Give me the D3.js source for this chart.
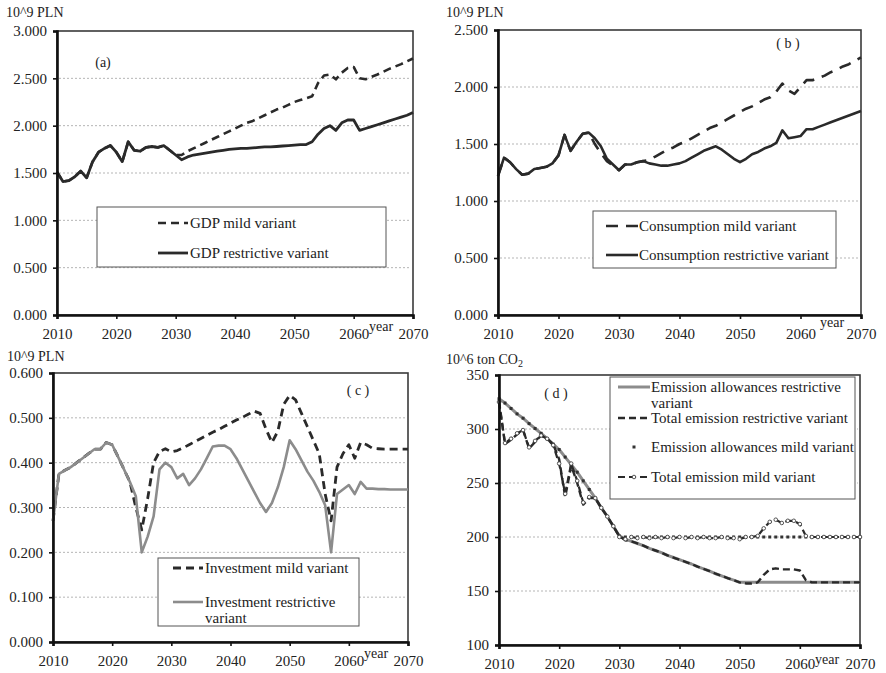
<!DOCTYPE html>
<html>
<head>
<meta charset="utf-8">
<script src="https://cdn.jsdelivr.net/npm/d3@7/dist/d3.min.js"></script>
<style>
  body { margin: 0; background: #fff; }
  svg text { font-family: "Liberation Serif", "Times New Roman", serif; fill: #222; }
</style>
</head>
<body>
<div id="container"></div>
<script>
// data, one value per year 2010..2070
const years = [
  2010,2011,2012,2013,2014,2015,2016,2017,2018,2019,
  2020,2021,2022,2023,2024,2025,2026,2027,2028,2029,
  2030,2031,2032,2033,2034,2035,2036,2037,2038,2039,
  2040,2041,2042,2043,2044,2045,2046,2047,2048,2049,
  2050,2051,2052,2053,2054,2055,2056,2057,2058,2059,
  2060,2061,2062,2063,2064,2065,2066,2067,2068,2069,
  2070
];
const xTicks = [2010, 2020, 2030, 2040, 2050, 2060, 2070];

// (a) GDP, 10^9 PLN
const gdpRestrictive = [
  1.51,1.41,1.42,1.46,1.52,1.45,1.62,1.72,1.76,1.79,
  1.72,1.62,1.83,1.74,1.73,1.77,1.78,1.77,1.79,1.74,
  1.69,1.64,1.67,1.69,1.70,1.71,1.72,1.73,1.74,1.75,
  1.755,1.76,1.76,1.765,1.77,1.775,1.775,1.78,1.785,1.79,
  1.795,1.80,1.80,1.83,1.91,1.97,2.00,1.95,2.03,2.06,
  2.06,1.95,1.97,1.99,2.01,2.03,2.05,2.07,2.09,2.11,
  2.14
];
const gdpMild = [
  1.51,1.41,1.42,1.46,1.52,1.45,1.62,1.72,1.76,1.79,
  1.72,1.62,1.83,1.74,1.73,1.77,1.78,1.77,1.79,1.74,
  1.69,1.69,1.73,1.76,1.79,1.82,1.85,1.88,1.91,1.94,
  1.97,2.00,2.03,2.05,2.08,2.11,2.14,2.17,2.19,2.22,
  2.25,2.27,2.29,2.31,2.45,2.53,2.54,2.49,2.56,2.61,
  2.62,2.50,2.49,2.515,2.54,2.57,2.60,2.625,2.65,2.68,
  2.71
];
const gdpTicks = [0, 0.5, 1, 1.5, 2, 2.5, 3];

// (b) consumption, 10^9 PLN
const consRestrictive = [
  1.22,1.38,1.34,1.28,1.23,1.24,1.28,1.29,1.30,1.33,
  1.40,1.58,1.44,1.52,1.59,1.60,1.55,1.48,1.37,1.32,
  1.27,1.32,1.32,1.34,1.35,1.33,1.32,1.31,1.31,1.32,
  1.33,1.35,1.38,1.41,1.44,1.46,1.48,1.45,1.41,1.37,
  1.34,1.37,1.41,1.43,1.46,1.48,1.51,1.62,1.55,1.56,
  1.57,1.63,1.63,1.65,1.67,1.69,1.71,1.73,1.75,1.77,
  1.79
];
const consMild = [
  1.22,1.38,1.34,1.28,1.23,1.24,1.28,1.29,1.30,1.33,
  1.40,1.58,1.44,1.52,1.59,1.60,1.50,1.42,1.35,1.31,
  1.27,1.32,1.32,1.34,1.35,1.36,1.39,1.42,1.45,1.47,
  1.50,1.52,1.55,1.58,1.61,1.64,1.66,1.69,1.72,1.75,
  1.78,1.81,1.83,1.86,1.89,1.91,1.96,2.03,1.97,1.94,
  2.00,2.06,2.06,2.08,2.10,2.13,2.15,2.18,2.20,2.23,
  2.26
];
const consTicks = [0, 0.5, 1, 1.5, 2, 2.5];

// (c) investment, 10^9 PLN
const invRestrictive = [
  0.27,0.375,0.383,0.39,0.40,0.41,0.42,0.43,0.43,0.445,
  0.44,0.413,0.385,0.357,0.325,0.20,0.235,0.28,0.385,0.40,
  0.39,0.365,0.375,0.35,0.365,0.385,0.41,0.436,0.438,0.438,
  0.43,0.41,0.385,0.36,0.335,0.31,0.29,0.31,0.345,0.39,
  0.45,0.43,0.405,0.38,0.36,0.335,0.305,0.20,0.33,0.34,
  0.35,0.33,0.357,0.342,0.342,0.341,0.341,0.34,0.34,0.34,
  0.34
];
const invMild = [
  0.27,0.375,0.383,0.39,0.40,0.41,0.42,0.43,0.43,0.445,
  0.44,0.413,0.385,0.357,0.30,0.25,0.32,0.40,0.425,0.431,
  0.424,0.427,0.433,0.44,0.447,0.454,0.461,0.468,0.474,0.481,
  0.488,0.495,0.501,0.508,0.515,0.51,0.475,0.445,0.47,0.53,
  0.55,0.54,0.51,0.48,0.45,0.42,0.33,0.27,0.39,0.42,
  0.44,0.41,0.445,0.44,0.432,0.431,0.43,0.43,0.43,0.43,
  0.43
];
const invTicks = [0, 0.1, 0.2, 0.3, 0.4, 0.5, 0.6];

// (d) emissions, 10^6 ton CO2
const allowRestrictive = [
  328,324,319,314,310,305,300.5,296,291,286,
  281,274,267,260,252,244,236,227,219,210,
  201,198,196,194,192,189.5,187.5,185.5,183,181,
  179,177,175,172.5,170.5,168.5,166,164,162,160,
  158,158,158,158,158,158,158,158,158,158,
  158,158,158,158,158,158,158,158,158,158,
  158
];
const totalRestrictive = [
  326,286,290,295,299,282,288,294,291,286,
  272,237,266,250,230,236,236,227,219,210,
  201,197,196,194,192,189.5,187.5,185.5,183,181,
  179,177,175,172.5,170.5,168.5,166,164,162,160,
  158,157,157,158,165,170,171,170,170,170,
  169,160,158,158,158,158,158,158,158,158,
  158
];
const allowMild = [
  328,324,319,314,310,305,300.5,296,291,286,
  281,274,267,260,252,244,236,227,219,210,
  201,200,200,200,200,200,200,200,200,200,
  200,200,200,200,200,200,200,200,200,200,
  200,200,200,200,200,200,200,200,200,200,
  200,200,200,200,200,200,200,200,200,200,
  200
];
const totalMild = [
  325,287,291,296,299,283,289,294,291,285,
  268,240,268,252,232,237,236,227,219,210,
  200,198,200,199,200,199,200,199,200,199,
  200,199,200,199,200,199,199,200,199,199,
  198,200,200,201,208,214,216,213,215,215,
  212,201,200,200,200,200,200,200,200,200,
  200
];
const emTicks = [100, 150, 200, 250, 300, 350];

const w = 886;
const h = 673;
const dark = "#2a2a2a";
const gray = "#8c8c8c";

let svg = d3.select("#container")
  .append("svg")
    .attr("width", w)
    .attr("height", h)
    .style("background", "#fff")
;

const panels = [
  {
    box: [57, 413, 31, 315], domain: [0, 3], ticks: gdpTicks, fmt: d3.format(".3f"),
    unit: ["10^9 PLN"], unitPos: [6, 17], tag: "(a)", tagPos: [103, 67], yearPos: [381, 331],
    series: [
      { values: gdpMild, stroke: dark, width: 2.6, dash: "8,5" },
      { values: gdpRestrictive, stroke: dark, width: 2.8 }
    ],
    legend: { rect: [97, 207, 289, 60], sx: [158, 188], tx: 190, items: [
      { y: 223, text: ["GDP mild variant"], series: 0 },
      { y: 253, text: ["GDP restrictive variant"], series: 1 }
    ]}
  },
  {
    box: [498, 861, 30, 315], domain: [0, 2.5], ticks: consTicks, fmt: d3.format(".3f"),
    unit: ["10^9 PLN"], unitPos: [446, 17], tag: "( b )", tagPos: [788, 48], yearPos: [832, 327],
    series: [
      { values: consMild, stroke: dark, width: 2.6, dash: "12,8" },
      { values: consRestrictive, stroke: dark, width: 2.6 }
    ],
    legend: { rect: [593, 211, 243, 57], sx: [606, 638], tx: 639, items: [
      { y: 226, text: ["Consumption mild variant"], series: 0 },
      { y: 255, text: ["Consumption restrictive variant"], series: 1 }
    ]}
  },
  {
    box: [53, 408, 373, 642], domain: [0, 0.6], ticks: invTicks, fmt: d3.format(".3f"),
    unit: ["10^9 PLN"], unitPos: [7, 361], tag: "( c )", tagPos: [358, 395], yearPos: [376, 658],
    series: [
      { values: invMild, stroke: dark, width: 2.8, dash: "8,5" },
      { values: invRestrictive, stroke: gray, width: 2.6 }
    ],
    legend: { rect: [158, 558, 201, 68], sx: [173, 203], tx: 205, items: [
      { y: 568, text: ["Investment mild variant"], series: 0 },
      { y: 602, text: ["Investment restrictive", "variant"], series: 1 }
    ]}
  },
  {
    box: [499, 860, 375, 645], domain: [100, 350], ticks: emTicks, fmt: d3.format("d"),
    unit: ["10^6 ton CO", "2"], unitPos: [446, 364], tag: "( d )", tagPos: [556, 398], yearPos: [827, 664],
    series: [
      { values: allowRestrictive, stroke: gray, width: 3 },
      { values: totalRestrictive, stroke: dark, width: 2.4, dash: "7,4" },
      { values: allowMild, stroke: "none", width: 0, marker: "square" },
      { values: totalMild, stroke: dark, width: 2.2, dash: "7,4", marker: "circle" }
    ],
    legend: { rect: [610, 377, 245, 122], sx: [618, 650], tx: 651, items: [
      { y: 387, text: ["Emission allowances restrictive", "variant"], series: 0 },
      { y: 418, text: ["Total emission restrictive variant"], series: 1 },
      { y: 447, text: ["Emission allowances mild variant"], series: 2 },
      { y: 477, text: ["Total emission mild variant"], series: 3 }
    ]}
  }
];

function drawPanel(p) {
  let [x0, x1, y0, y1] = p.box;
  let xScale = d3.scaleLinear().domain([2010, 2070]).range([x0, x1]);
  let yScale = d3.scaleLinear().domain(p.domain).range([y1, y0]);
  let g = svg.append("g");

  // dotted gridlines
  g.selectAll(".grid").data(p.ticks.slice(1, -1)).enter()
    .append("line")
      .attr("x1", x0 + 2).attr("x2", x1 - 2)
      .attr("y1", yScale).attr("y2", yScale)
      .attr("stroke", "#b5b5b5")
      .attr("stroke-width", 1)
      .attr("stroke-dasharray", "2,2")
  ;

  g.append("rect")
    .attr("x", x0).attr("y", y0)
    .attr("width", x1 - x0).attr("height", y1 - y0)
    .attr("fill", "none").attr("stroke", "#3a3a3a").attr("stroke-width", 1.6);

  let lineMaker = d3.line()
    .x((d, i) => xScale(years[i]))
    .y(d => yScale(d));

  p.series.forEach(s => {
    if (s.stroke !== "none") {
      g.append("path")
        .datum(s.values)
        .attr("d", lineMaker)
        .attr("fill", "none")
        .attr("stroke", s.stroke)
        .attr("stroke-width", s.width)
        .attr("stroke-dasharray", s.dash || null)
        .attr("stroke-linejoin", "round");
    }
    if (s.marker === "square") {
      g.selectAll(null).data(s.values).enter().append("rect")
        .attr("x", (d, i) => xScale(years[i]) - 1.5)
        .attr("y", d => yScale(d) - 1.5)
        .attr("width", 3).attr("height", 3)
        .attr("fill", "#333");
    }
    if (s.marker === "circle") {
      g.selectAll(null).data(s.values).enter().append("circle")
        .attr("cx", (d, i) => xScale(years[i]))
        .attr("cy", d => yScale(d))
        .attr("r", 1.8)
        .attr("fill", "#fff").attr("stroke", "#444").attr("stroke-width", 0.9);
    }
  });

  let yAxis = d3.axisLeft(yScale).tickValues(p.ticks).tickFormat(p.fmt).tickSize(4).tickPadding(6);
  let xAxis = d3.axisBottom(xScale).tickValues(xTicks).tickFormat(d3.format("d")).tickSize(4).tickPadding(9);

  let ya = g.append("g").attr("transform", `translate(${x0},0)`).call(yAxis);
  let xa = g.append("g").attr("transform", `translate(0,${y1})`).call(xAxis);
  [ya, xa].forEach(a => {
    a.select(".domain").attr("stroke", "#111").attr("stroke-width", 2.6);
    a.selectAll(".tick line").attr("stroke", "#111").attr("stroke-width", 1.6);
    a.selectAll("text")
      .attr("font-family", "Liberation Serif, serif")
      .attr("font-size", 15)
      .attr("fill", "#222");
  });

  // unit above the axis
  let unit = g.append("text")
    .attr("x", p.unitPos[0]).attr("y", p.unitPos[1])
    .attr("font-size", 14)
    .text(p.unit[0]);
  if (p.unit[1]) {
    unit.append("tspan").attr("font-size", 10).attr("dy", 3).text(p.unit[1]);
  }

  g.append("text")
    .attr("x", p.tagPos[0]).attr("y", p.tagPos[1])
    .attr("text-anchor", "middle")
    .attr("font-size", 14)
    .text(p.tag);

  g.append("text")
    .attr("x", p.yearPos[0]).attr("y", p.yearPos[1])
    .attr("text-anchor", "middle")
    .attr("font-size", 14)
    .text("year");

  // legend
  let L = p.legend;
  g.append("rect")
    .attr("x", L.rect[0]).attr("y", L.rect[1])
    .attr("width", L.rect[2]).attr("height", L.rect[3])
    .attr("fill", "#fff").attr("stroke", "#555").attr("stroke-width", 1);

  L.items.forEach(it => {
    let s = p.series[it.series];
    if (s.stroke !== "none") {
      g.append("line")
        .attr("x1", L.sx[0]).attr("x2", L.sx[1])
        .attr("y1", it.y).attr("y2", it.y)
        .attr("stroke", s.stroke).attr("stroke-width", s.width)
        .attr("stroke-dasharray", s.dash || null);
    }
    let mid = (L.sx[0] + L.sx[1]) / 2;
    if (s.marker === "square") {
      g.append("rect").attr("x", mid - 1.5).attr("y", it.y - 1.5)
        .attr("width", 3).attr("height", 3).attr("fill", "#333");
    }
    if (s.marker === "circle") {
      g.append("circle").attr("cx", mid).attr("cy", it.y).attr("r", 1.8)
        .attr("fill", "#fff").attr("stroke", "#444").attr("stroke-width", 0.9);
    }
    let t = g.append("text")
      .attr("x", L.tx).attr("y", it.y)
      .attr("dy", "0.35em")
      .attr("font-size", 15);
    it.text.forEach((line, k) => {
      t.append("tspan").attr("x", L.tx).attr("dy", k === 0 ? "0.35em" : 16).text(line);
    });
  });
}

panels.forEach(drawPanel);
</script>
</body>
</html>
